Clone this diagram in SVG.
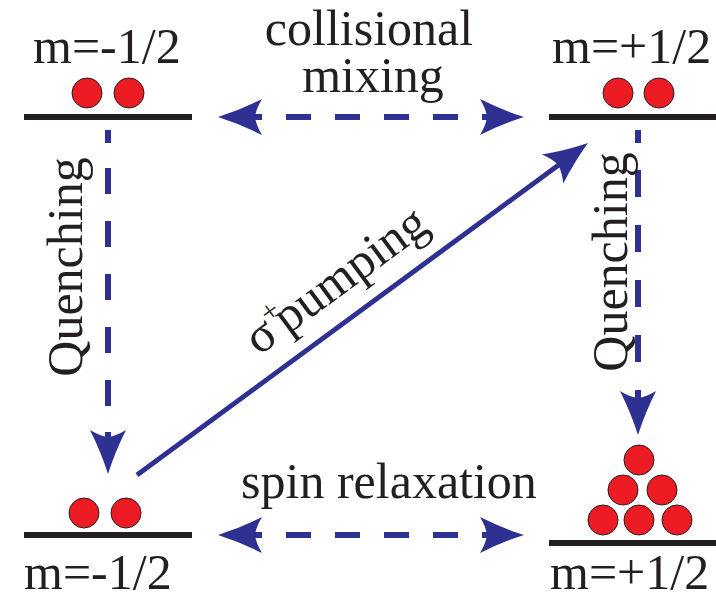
<svg xmlns="http://www.w3.org/2000/svg" xmlns:xlink="http://www.w3.org/1999/xlink" width="716" height="595" viewBox="0 0 716 595">
<style>
text{font-family:'Liberation Serif','DejaVu Serif',serif;font-size:50px;fill:#231F20}
.lvl{stroke:#231F20;stroke-width:6;fill:none}
.atom{fill:#ED1C24;stroke:#231F20;stroke-width:1}
.dash{stroke:#2E3192;stroke-width:6;fill:none}
.solid{stroke:#2E3192;stroke-width:5;fill:none}
.ah{fill:#2E3192}
</style>
<defs>
<path id="ah" d="M0,0 Q-22,-7 -44,-18 Q-38,-8 -37,0 Q-38,8 -44,18 Q-22,7 0,0 Z"/>
</defs>
<rect width="716" height="595" fill="#FFFFFF"/>

<g id="connectors">
<g id="collisional-mixing">
<line class="dash" x1="237" y1="117" x2="507" y2="117" stroke-dasharray="25 24"/>
<use xlink:href="#ah" class="ah" transform="translate(218,117) rotate(180)"/>
<use xlink:href="#ah" class="ah" transform="translate(524,117)"/>
</g>
<g id="spin-relaxation">
<line class="dash" x1="237" y1="535" x2="507" y2="535" stroke-dasharray="25 24"/>
<use xlink:href="#ah" class="ah" transform="translate(218,535) rotate(180)"/>
<use xlink:href="#ah" class="ah" transform="translate(524,535)"/>
</g>
<g id="quenching-left">
<line class="dash" x1="108" y1="130" x2="108" y2="458" stroke-dasharray="13 25 26 27 26 27 26 27 26 27 26 26 26"/>
<use xlink:href="#ah" class="ah" transform="translate(108,474) rotate(90)"/>
</g>
<g id="quenching-right">
<line class="dash" x1="638" y1="130" x2="638" y2="417" stroke-dasharray="13 27 27 28 27 28 27 28 27 28 27"/>
<use xlink:href="#ah" class="ah" transform="translate(638,435) rotate(90)"/>
</g>
<g id="pumping">
<line class="solid" x1="137" y1="475" x2="560" y2="164"/>
<use xlink:href="#ah" class="ah" transform="translate(588,143) rotate(-36.36)"/>
</g>
</g>

<g id="label-collisional-mixing">
<text x="369" y="45" text-anchor="middle" font-family="Liberation Serif, DejaVu Serif, serif">collisional</text>
<text x="373" y="92" text-anchor="middle" font-family="Liberation Serif, DejaVu Serif, serif">mixing</text>
</g>
<g id="label-spin-relaxation">
<text x="389" y="498" text-anchor="middle" font-family="Liberation Serif, DejaVu Serif, serif">spin relaxation</text>
</g>
<g id="label-quenching-left">
<text transform="translate(82,267) rotate(-90)" text-anchor="middle" font-family="Liberation Serif, DejaVu Serif, serif">Quenching</text>
</g>
<g id="label-quenching-right">
<text transform="translate(627,262) rotate(-90)" text-anchor="middle" font-family="Liberation Serif, DejaVu Serif, serif">Quenching</text>
</g>
<g id="label-pumping">
<text transform="translate(345,293) rotate(-36.36)" text-anchor="middle" font-family="Liberation Serif, DejaVu Serif, serif">σ<tspan font-size="30" dy="-20">+</tspan><tspan dy="20" dx="-8">pumping</tspan></text>
</g>

<g id="ground-minus-top">
<line class="lvl" x1="24" y1="117" x2="192" y2="117"/>
<circle class="atom" cx="87" cy="93" r="15"/>
<circle class="atom" cx="129" cy="93" r="15"/>
<text x="33" y="63" font-family="Liberation Serif, DejaVu Serif, serif">m=-1/2</text>
</g>
<g id="ground-plus-top">
<line class="lvl" x1="549" y1="117" x2="716" y2="117"/>
<circle class="atom" cx="618" cy="93" r="15"/>
<circle class="atom" cx="659" cy="93" r="15"/>
<text x="552" y="63" font-family="Liberation Serif, DejaVu Serif, serif">m=+1/2</text>
</g>
<g id="ground-minus-bottom">
<line class="lvl" x1="24" y1="535" x2="192" y2="535"/>
<circle class="atom" cx="84" cy="513" r="15"/>
<circle class="atom" cx="126" cy="513" r="15"/>
<text x="24" y="589" font-family="Liberation Serif, DejaVu Serif, serif">m=-1/2</text>
</g>
<g id="ground-plus-bottom">
<line class="lvl" x1="549" y1="543" x2="716" y2="543"/>
<circle class="atom" cx="639" cy="460" r="15"/>
<circle class="atom" cx="623" cy="490" r="15"/>
<circle class="atom" cx="662" cy="490" r="15"/>
<circle class="atom" cx="603" cy="520" r="15"/>
<circle class="atom" cx="639" cy="520" r="15"/>
<circle class="atom" cx="677" cy="520" r="15"/>
<text x="550" y="589" font-family="Liberation Serif, DejaVu Serif, serif">m=+1/2</text>
</g>
</svg>
